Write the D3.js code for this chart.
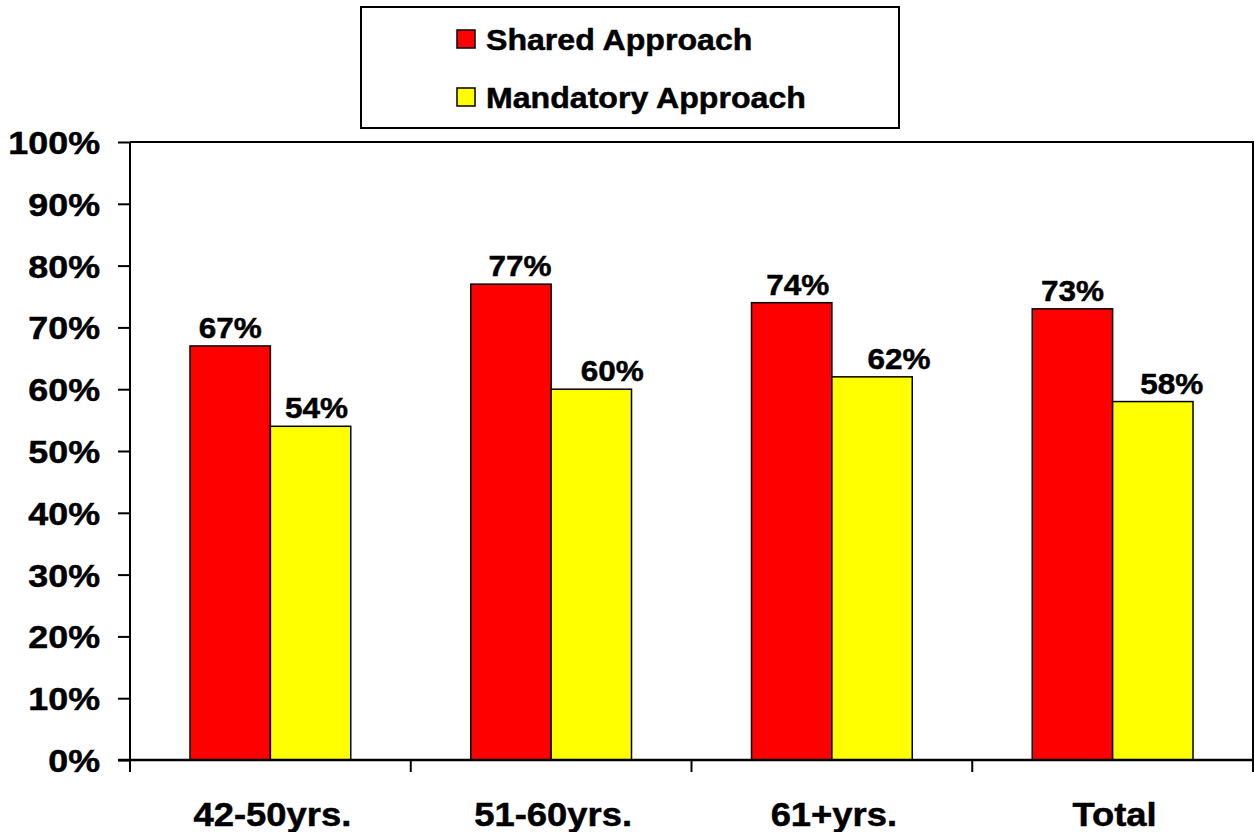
<!DOCTYPE html>
<html><head><meta charset="utf-8">
<script src="https://cdn.jsdelivr.net/npm/d3@7"></script>
<style>body{margin:0;background:#fff}svg{display:block}text{font-family:"Liberation Sans",Arial,sans-serif;font-weight:bold;fill:#000;stroke:#000;stroke-width:0.5}</style>
</head><body>
<script>
const categories = ["42-50yrs.", "51-60yrs.", "61+yrs.", "Total"];
const seriesNames = ["Shared Approach", "Mandatory Approach"];
const shared = [67, 77, 74, 73];
const mandatory = [54, 60, 62, 58];
const colors = ["#ff0000", "#ffff00"];
const yTicks = [0,10,20,30,40,50,60,70,80,90,100];

// hand-placed label nudges in the original (px, horizontal)
const sharedLabelNudge = [0, 9, 6, 0];
const mandatoryLabelNudge = [6, 21, 27, 19];

const W = 1254, H = 832;
const m = {left:130, right:1253, top:142, bottom:760};
const svg = d3.select("body").append("svg").attr("width", W).attr("height", H);

function stretch(sel, k) {
  sel.each(function() {
    const L = this.getComputedTextLength();
    d3.select(this).attr("textLength", L * k).attr("lengthAdjust", "spacingAndGlyphs");
  });
}

const x = d3.scaleBand().domain(categories).range([m.left, m.right]).paddingInner(0).paddingOuter(0);
const inner = d3.scaleBand().domain(seriesNames).range([60, x.bandwidth()-60]);
const y = d3.scaleLinear().domain([0,100]).range([m.bottom, m.top]);

// plot frame (top and right)
svg.append("path").attr("d", `M${m.left},${m.top}H${m.right}V${m.bottom}`).attr("fill","none").attr("stroke","#000").attr("stroke-width",2);

const series = [shared, mandatory];
const nudges = [sharedLabelNudge, mandatoryLabelNudge];
series.forEach((vals, si) => {
  const g = svg.append("g");
  g.selectAll("rect").data(vals).join("rect")
    .attr("x", (d,i) => x(categories[i]) + inner(seriesNames[si]))
    .attr("y", d => y(d))
    .attr("width", inner.bandwidth())
    .attr("height", d => y(0) - y(d))
    .attr("fill", colors[si]).attr("stroke", "#000").attr("stroke-width", 1.5);
  g.selectAll("text").data(vals).join("text")
    .attr("x", (d,i) => x(categories[i]) + inner(seriesNames[si]) + inner.bandwidth()/2 + nudges[si][i])
    .attr("y", d => y(d) - 8)
    .attr("text-anchor","middle").attr("font-size", 30)
    .text(d => d + "%")
    .call(stretch, 1.05);
});

// y axis
const yAxis = svg.append("g").attr("transform", `translate(${m.left},0)`)
  .call(d3.axisLeft(y).tickValues(yTicks).tickFormat(d => d + "%").tickSize(12).tickPadding(18));
yAxis.select(".domain").attr("d", `M0,${m.top}V${m.bottom+12}`).attr("stroke-width",2);
yAxis.selectAll(".tick line").attr("stroke-width",2);
yAxis.selectAll(".tick text").attr("font-size", 32).attr("font-family",null).attr("fill",null).attr("dy","0.36em")
  .call(stretch, 1.12);

// x axis
const bounds = d3.range(categories.length+1).map(i => m.left + i*x.step());
const xg = svg.append("g");
xg.append("line").attr("x1", m.left-12).attr("x2", m.right).attr("y1", m.bottom).attr("y2", m.bottom).attr("stroke","#000").attr("stroke-width",2.5);
xg.selectAll("line.t").data(bounds).join("line").attr("class","t")
  .attr("x1", d=>d).attr("x2", d=>d).attr("y1", m.bottom).attr("y2", m.bottom+12).attr("stroke","#000").attr("stroke-width",2);
xg.selectAll("text").data(categories).join("text")
  .attr("x", d => x(d) + x.bandwidth()/2 + 2).attr("y", 826)
  .attr("text-anchor","middle").attr("font-size", 34).text(d => d)
  .call(stretch, 1.07);

// legend
const lg = svg.append("g");
lg.append("rect").attr("x", 361).attr("y", 7).attr("width", 538).attr("height", 121).attr("fill","#fff").attr("stroke","#000").attr("stroke-width",2);
seriesNames.forEach((n, i) => {
  lg.append("rect").attr("x", 457).attr("y", 30 + i*58).attr("width", 18).attr("height", 18)
    .attr("fill", colors[i]).attr("stroke","#000").attr("stroke-width",1.5);
  lg.append("text").attr("x", 486).attr("y", 50 + i*58).attr("font-size", 30).text(n)
    .call(stretch, 1.07);
});
</script>
</body></html>
